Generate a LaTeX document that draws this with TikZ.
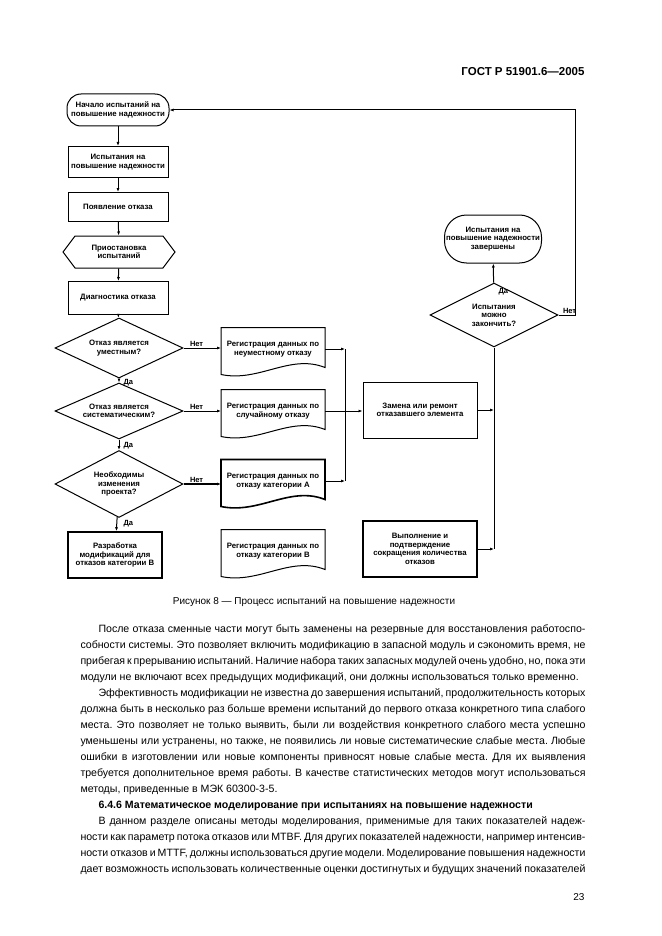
\documentclass[tikz,border=0pt]{standalone}
\usepackage{fontspec}
\setmainfont{Liberation Sans}
\usetikzlibrary{shapes.geometric,shapes.symbols,arrows.meta}
\frenchspacing

\begin{document}
\begin{tikzpicture}[x=1pt,y=-1pt,
	every node/.style={font=\fontsize{7.8}{8.6}\selectfont\bfseries, align=center, inner sep=1pt},
	box/.style={draw, line width=1pt, minimum width=100pt, minimum height=31pt},
	term/.style={draw, line width=1pt, rounded corners=14pt},
	hexa/.style={draw, line width=1pt, signal, signal to=west and east, signal pointer angle=106, minimum width=112pt, minimum height=32pt},
	quest/.style={draw, line width=1pt, diamond, aspect=2.4, inner sep=0pt, minimum width=128pt},
	doc/.style={minimum width=103pt, minimum height=42pt},
	lbl/.style={font=\fontsize{7.5}{8}\selectfont\bfseries, inner sep=1pt},
	>={Latex[length=4pt,width=3pt]}, line width=1pt]
% page
\useasboundingbox (0,0) rectangle (661,936);

% header
\node[anchor=east, font=\fontsize{11.5}{13}\selectfont\bfseries] (gost) at (586,72) {ГОСТ Р 51901.6—2005};

% left column
\node[term, minimum width=102pt, minimum height=32pt] (start) at (118,110) {Начало испытаний на\\повышение надежности};
\node[box] (test) at (118,162) {Испытания на\\повышение надежности};
\node[box, minimum height=29pt] (fail) at (118,207) {Появление отказа};
\node[hexa] (stop) at (119,252) {Приостановка\\испытаний};
\node[box, minimum height=33pt] (diag) at (118,298) {Диагностика отказа};
\node[quest, minimum height=60pt] (q1) at (119,348) {Отказ является\\уместным?};
\node[quest, minimum height=56pt] (q2) at (119,411) {Отказ является\\систематическим?};
\node[quest, minimum height=67pt] (q3) at (119,484) {Необходимы\\изменения\\проекта?};
\node[box, line width=1.6pt, minimum width=94pt, minimum height=46pt] (devB) at (115,555) {Разработка\\модификаций для\\отказов категории В};

% documents
\node[doc] (reg1) at (273,349) {Регистрация данных по\\неуместному отказу};
\node[doc] (reg2) at (273,411) {Регистрация данных по\\случайному отказу};
\node[doc] (reg3) at (273,481) {Регистрация данных по\\отказу категории А};
\node[doc] (reg4) at (273,551) {Регистрация данных по\\отказу категории В};
\foreach \n/\w in {reg1/1,reg2/1,reg3/1.6,reg4/1} {
	\draw[line width=\w pt] (\n.north west) -- ([yshift=-4pt]\n.south west) .. controls +(38,8) and +(-35,-14) .. ([yshift=3pt]\n.south east) -- (\n.north east) -- cycle;
}

% right column
\node[box, minimum width=114pt, minimum height=56pt] (repl) at (420,410) {Замена или ремонт\\отказавшего элемента};
\node[box, line width=1.6pt, minimum width=114pt, minimum height=56pt] (impl) at (420,549) {Выполнение и\\подтверждение\\сокращения количества\\отказов};
\node[quest, minimum height=64pt] (q4) at (494,315) {Испытания\\можно\\закончить?};
\node[term, rounded corners=22pt, minimum width=97pt, minimum height=48pt] (done) at (493,239) {Испытания на\\повышение надежности\\завершены};

% junctions
\coordinate (jl) at (345,0);
\coordinate (loop) at (575,0);

% main line
\draw[->] (start) -- (test);
\draw[->] (test) -- (fail);
\draw[->] (fail) -- (stop);
\draw[->] (stop) -- (diag);
\draw[->] (diag) -- (q1);
\draw[->] (q1) -- (q2);
\draw[->] (q2) -- (q3);
\draw[->] (q3) -- (devB);
\node[lbl, anchor=west] (y1) at ([xshift=3pt,yshift=-4pt]q1.south) {Да};
\node[lbl, anchor=west] (y2) at ([xshift=3pt,yshift=-6pt]q2.south) {Да};
\node[lbl, anchor=west] (y3) at ([xshift=3pt,yshift=-6pt]q3.south) {Да};

% "no" branches
\draw[->] (q1.east) -- (reg1.west |- q1.east);
\draw[->] (q2.east) -- (reg2.west |- q2.east);
\draw[->, line width=1.6pt] (q3.east) -- (reg3.west |- q3.east);
\node[lbl, anchor=south west] (n1) at ([xshift=5pt]q1.east) {Нет};
\node[lbl, anchor=south west] (n2) at ([xshift=5pt]q2.east) {Нет};
\node[lbl, anchor=south west] (n3) at ([xshift=5pt]q3.east) {Нет};

% collect to repair
\draw[->] (reg1.east) -- (jl |- reg1.east);
\draw[->] (reg3.east) -- (jl |- reg3.east);
\draw (jl |- reg1.east) -- (jl |- reg3.east);
\draw[->] (reg2.east) -- (repl.west |- reg2.east);

% to end check
\draw[->] (repl.east) -- (q4.south |- repl.east);
\draw[->] (impl.east) -- (q4.south |- impl.east);
\draw (q4.south |- impl.east) -- (q4.south);
\draw[->] (q4) -- (done);
\node[lbl, anchor=west] (y4) at ([xshift=3pt,yshift=-9pt]q4.north) {Да};
\draw[->] (q4.east) -- (loop |- q4.east) -- (loop |- start.east) -- (start.east);
\node[lbl, anchor=south west] (n4) at ([xshift=3pt]q4.east) {Нет};

% caption
\node[font=\fontsize{10}{12}\selectfont] (cap) at (314,602) {Рисунок 8 — Процесс испытаний на повышение надежности};

% text
\node[anchor=north west, text width=505pt, align=justify, inner sep=0pt, font=\fontsize{10.6}{16}\selectfont] (body) at (80,624) {%
\parindent=0pt\hyphenpenalty=10000\exhyphenpenalty=10000\tolerance=10000
\spaceskip=.27em plus .5em minus .12em
\hspace*{18pt}После отказа сменные части могут быть заменены на резервные для восстановления работоспо-\linebreak
собности системы. Это позволяет включить модификацию в запасной модуль и сэкономить время, не\linebreak
прибегая к прерыванию испытаний. Наличие набора таких запасных модулей очень удобно, но, пока эти\linebreak
модули не включают всех предыдущих модификаций, они должны использоваться только временно.\par
\hspace*{18pt}Эффективность модификации не известна до завершения испытаний, продолжительность которых\linebreak
должна быть в несколько раз больше времени испытаний до первого отказа конкретного типа слабого\linebreak
места. Это позволяет не только выявить, были ли воздействия конкретного слабого места успешно\linebreak
уменьшены или устранены, но также, не появились ли новые систематические слабые места. Любые\linebreak
ошибки в изготовлении или новые компоненты привносят новые слабые места. Для их выявления\linebreak
требуется дополнительное время работы. В качестве статистических методов могут использоваться\linebreak
методы, приведенные в МЭК 60300-3-5.\par
\hspace*{18pt}{\bfseries 6.4.6 Математическое моделирование при испытаниях на повышение надежности}\par
\hspace*{18pt}В данном разделе описаны методы моделирования, применимые для таких показателей надеж-\linebreak
ности как параметр потока отказов или MTBF. Для других показателей надежности, например интенсив-\linebreak
ности отказов и MTTF, должны использоваться другие модели. Моделирование повышения надежности\linebreak
дает возможность использовать количественные оценки достигнутых и будущих значений показателей\parfillskip=0pt\par};

% page number
\node[anchor=east, font=\fontsize{10}{12}\selectfont] (pnum) at (586,897) {23};
\end{tikzpicture}
\end{document}
